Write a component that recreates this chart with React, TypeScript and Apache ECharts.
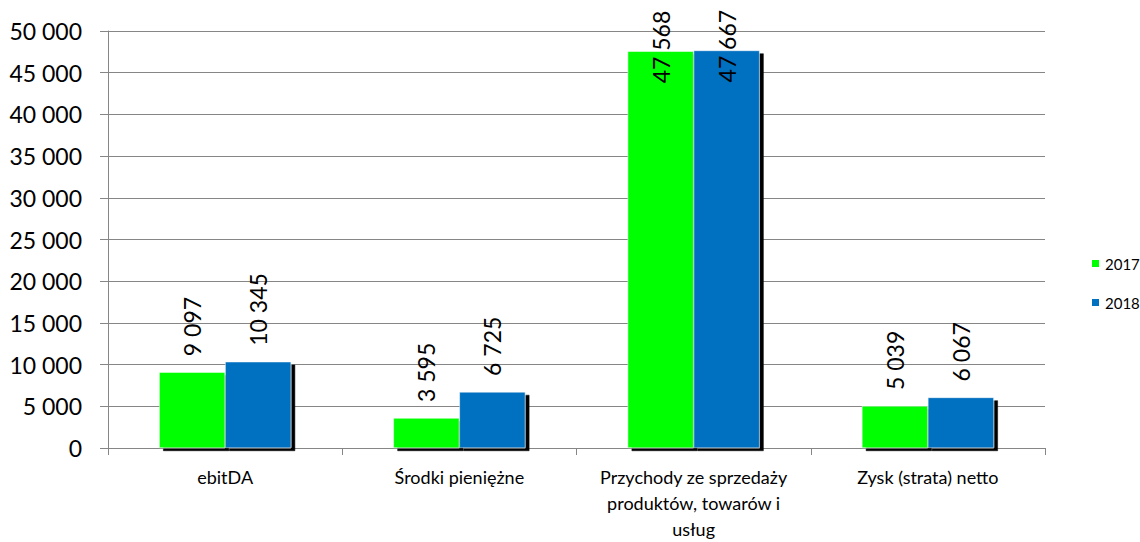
import React, { useEffect, useRef } from "react";
import * as echarts from "echarts";

const categories = [
  "ebitDA",
  "Środki pieniężne",
  "Przychody ze sprzedaży\nproduktów, towarów i\nusług",
  "Zysk (strata) netto",
];
const values2017 = [9097, 3595, 47568, 5039];
const values2018 = [10345, 6725, 47667, 6067];
const seriesNames = ["2017", "2018"];
const seriesColors = ["#00FF00", "#0070C0"];

const FONT = "Lato, 'Open Sans', sans-serif";
const fmt = (v: number) => String(v).replace(/\B(?=(\d{3})+(?!\d))/g, " ");

// Labels of bars that reach the top of the plot sit partly inside the bar.
function buildData(values: number[]) {
  return values.map((v) => {
    if (v > 40000) {
      return {
        value: v,
        label: { position: ["50%", 32], distance: 0 },
      };
    }
    return v;
  });
}

export default function App() {
  const ref = useRef<HTMLDivElement>(null);
  useEffect(() => {
    document.body.style.margin = "0";
    if (!ref.current) return;
    const chart = echarts.init(ref.current, null, { renderer: "svg" });
    const barLabel = {
      show: true,
      position: "top",
      rotate: 90,
      align: "left",
      verticalAlign: "middle",
      distance: 16,
      color: "#000",
      fontFamily: FONT,
      fontSize: 23,
      formatter: (p: any) => fmt(p.value),
    };
    const shadow = {
      shadowColor: "#000",
      shadowBlur: 0,
      shadowOffsetX: 4,
      shadowOffsetY: 3,
    };
    chart.setOption({
      animation: false,
      backgroundColor: "#fff",
      textStyle: { fontFamily: FONT },
      grid: { left: 108, right: 95, top: 31, bottom: 87, containLabel: false },
      legend: {
        orient: "vertical",
        left: 1085,
        top: 251,
        itemWidth: 9,
        itemHeight: 9,
        itemGap: 24,
        icon: "rect",
        textStyle: { fontSize: 15, color: "#000", fontFamily: FONT },
        data: seriesNames,
      },
      xAxis: {
        type: "category",
        data: categories,
        axisLine: { lineStyle: { color: "#868686" } },
        axisTick: { show: true, length: 7, lineStyle: { color: "#868686" } },
        axisLabel: {
          color: "#000",
          fontSize: 18,
          fontFamily: FONT,
          lineHeight: 26,
          margin: 16,
          interval: 0,
        },
      },
      yAxis: {
        type: "value",
        min: 0,
        max: 50000,
        interval: 5000,
        axisLine: { show: true, lineStyle: { color: "#868686" } },
        axisTick: { show: true, length: 8, lineStyle: { color: "#868686" } },
        splitLine: { lineStyle: { color: "#868686" } },
        axisLabel: {
          color: "#000",
          fontSize: 23,
          fontFamily: FONT,
          margin: 26,
          formatter: (v: number) => fmt(v),
        },
      },
      series: [
        {
          name: seriesNames[0],
          type: "bar",
          data: buildData(values2017),
          barWidth: 66,
          barGap: "0%",
          itemStyle: { color: seriesColors[0], borderColor: "#fff", borderWidth: 0.5, ...shadow },
          label: barLabel,
        },
        {
          name: seriesNames[1],
          type: "bar",
          data: buildData(values2018),
          barWidth: 66,
          barGap: "0%",
          itemStyle: { color: seriesColors[1], borderColor: "#fff", borderWidth: 0.5, ...shadow },
          label: barLabel,
        },
      ],
    });
    return () => chart.dispose();
  }, []);
  return <div ref={ref} style={{ width: 1140, height: 542 }} />;
}
